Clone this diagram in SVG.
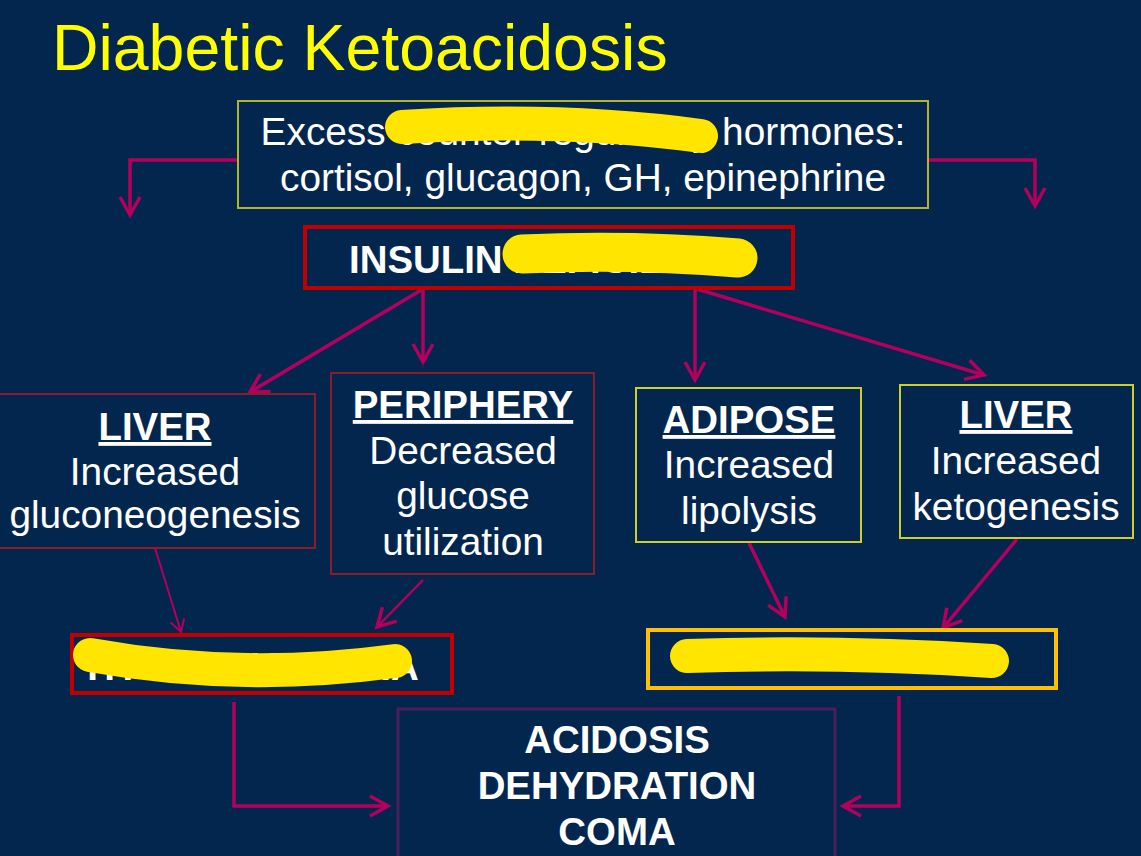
<svg xmlns="http://www.w3.org/2000/svg" width="1141" height="856" viewBox="0 0 1141 856">
<style>
.bg{fill:#03264F}
text{font-family:"Liberation Sans",Arial,sans-serif;fill:#FFFFFF;font-size:38.8px;text-anchor:middle}
.title{fill:#FFFF00;font-size:64.4px;text-anchor:start}
.b{font-weight:bold;font-size:38.4px}
.u{text-decoration:underline}
.box{fill:none}
.olive{stroke:#B3B32C;stroke-width:2}
.yel{stroke:#CDCD2E;stroke-width:2}
.dred{stroke:#8E1B2C;stroke-width:2}
.red{stroke:#C00000;stroke-width:4}
.gold{stroke:#FFC000;stroke-width:4}
.purp{stroke:#4C1E5E;stroke-width:3}
.blob{fill:none;stroke:#FFE500;stroke-linecap:round;stroke-linejoin:round}
.c{fill:none;stroke:#B4005C;stroke-width:3.5;marker-end:url(#ah)}
.cs{fill:none;stroke:#B4005C;stroke-width:2;marker-end:url(#ahs)}
</style>
<defs>
<marker id="ah" viewBox="-22 -14 28 28" refX="0" refY="0" markerWidth="28" markerHeight="28" markerUnits="userSpaceOnUse" orient="auto">
<path d="M-18,-10 L0,0 L-18,10" fill="none" stroke="#B4005C" stroke-width="3.5"/>
</marker>
<marker id="ahs" viewBox="-16 -10 20 20" refX="0" refY="0" markerWidth="20" markerHeight="20" markerUnits="userSpaceOnUse" orient="auto">
<path d="M-12,-7 L0,0 L-12,7" fill="none" stroke="#B4005C" stroke-width="2"/>
</marker>
</defs>
<rect class="bg" x="0" y="0" width="1141" height="856"/>
<g id="title"><text class="title" x="52" y="70">Diabetic Ketoacidosis</text></g>

<g id="connectors">
<polyline class="c" points="238,160 130,160 130,215"/>
<polyline class="c" points="928,160 1035,160 1035,206"/>
<line class="c" x1="423" y1="289" x2="250" y2="392"/>
<line class="c" x1="423" y1="289" x2="423" y2="362"/>
<line class="c" x1="695" y1="289" x2="695" y2="380"/>
<line class="c" x1="697" y1="289" x2="984" y2="375"/>
<line class="cs" x1="155" y1="548" x2="181" y2="632"/>
<line class="c" style="stroke-width:2.5" x1="423" y1="580" x2="377" y2="627"/>
<line class="c" x1="749" y1="543" x2="785" y2="617"/>
<line class="c" x1="1017" y1="539" x2="943" y2="628"/>
<polyline class="c" points="234,702 234,806 388,806"/>
<polyline class="c" points="899,696 899,806 843,806"/>
</g>

<g id="hormones">
<rect class="box olive" x="238" y="101" width="690" height="107"/>
<text x="583" y="145">Excess counter-regulatory hormones:</text>
<text x="583" y="191">cortisol, glucagon, GH, epinephrine</text>
<path class="blob" stroke-width="34" d="M402,127 Q560,117 701,136"/>
</g>

<g id="insulin">
<rect class="box red" x="305" y="227" width="488" height="61"/>
<text class="b" x="349" y="273" style="text-anchor:start">INSULIN DEFICIENCY</text>
<path class="blob" stroke-width="39" d="M522,254 Q630,249 738,258"/>
</g>

<g id="liver-gluco">
<rect class="box dred" x="-3" y="394" width="318" height="154"/>
<text class="b u" x="155" y="440">LIVER</text>
<text x="155" y="485">Increased</text>
<text x="155" y="528">gluconeogenesis</text>
</g>

<g id="periphery">
<rect class="box dred" x="331" y="373" width="263" height="201"/>
<text class="b u" x="463" y="418">PERIPHERY</text>
<text x="463" y="464">Decreased</text>
<text x="463" y="509">glucose</text>
<text x="463" y="555">utilization</text>
</g>

<g id="adipose">
<rect class="box yel" x="636" y="388" width="225" height="154"/>
<text class="b u" x="749" y="433">ADIPOSE</text>
<text x="749" y="478">Increased</text>
<text x="749" y="524">lipolysis</text>
</g>

<g id="liver-keto">
<rect class="box yel" x="900" y="385" width="233" height="153"/>
<text class="b u" x="1016" y="428">LIVER</text>
<text x="1016" y="474">Increased</text>
<text x="1016" y="520">ketogenesis</text>
</g>

<g id="hyperglycemia">
<rect class="box red" x="72" y="635" width="380" height="58"/>
<text class="b" x="253" y="680">HYPERGLYCEMIA</text>
<path class="blob" stroke-width="34" d="M90,655 Q240,682 395,661"/>
</g>

<g id="ketosis">
<rect class="box gold" x="648" y="630" width="408" height="58"/>
<path class="blob" stroke-width="34" d="M687,656 Q840,651 992,661"/>
</g>

<g id="outcome">
<rect class="box purp" x="398" y="709" width="437" height="160"/>
<text class="b" x="617" y="753">ACIDOSIS</text>
<text class="b" x="617" y="799">DEHYDRATION</text>
<text class="b" x="617" y="845">COMA</text>
</g>
</svg>
